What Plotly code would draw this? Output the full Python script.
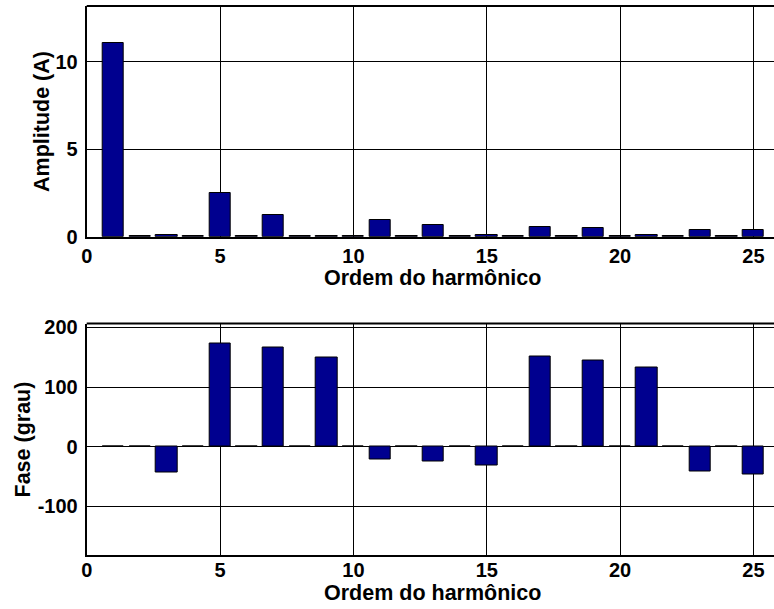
import plotly.graph_objects as go

harmonics = list(range(1, 26))
amplitude = [11.05, 0.04, 0.10, 0.04, 2.48, 0.04, 1.24, 0.04, 0.04, 0.04,
             0.95, 0.04, 0.67, 0.04, 0.10, 0.04, 0.55, 0.04, 0.48, 0.04,
             0.10, 0.04, 0.38, 0.04, 0.38]
phase = [0.5, 0.5, -43.5, 0.5, 173, 0.5, 166.5, 0.5, 149, 0.5,
         -22, 0.5, -24, 0.5, -32, 0.5, 151, 0.5, 145, 0.5,
         133, 0.5, -42, 0.5, -46]

xticks = [0, 5, 10, 15, 20, 25]
amp_ticks = [0, 5, 10]
phase_ticks = [-100, 0, 100, 200]

W, H = 774, 609
BAR = "#00008F"
FONT = dict(family="Liberation Sans, Arial, sans-serif", size=20, color="black")


def bold(vals):
    return ["<b>%s</b>" % v for v in vals]


fig = go.Figure()
fig.add_trace(go.Bar(x=harmonics, y=amplitude, width=0.8, xaxis="x", yaxis="y",
                     marker=dict(color=BAR, line=dict(color="black", width=1))))
fig.add_trace(go.Bar(x=harmonics, y=phase, width=0.8, xaxis="x2", yaxis="y2",
                     marker=dict(color=BAR, line=dict(color="black", width=1))))

x0 = 86.7 / W
top1, bot1 = 1 - 6 / H, 1 - 236.7 / H
top2, bot2 = 1 - 323.5 / H, 1 - 555 / H
xr = [0, (W - 86.7) / 26.67]

common_x = dict(range=xr, tickvals=xticks, ticktext=bold(xticks), showgrid=True,
                gridcolor="black", gridwidth=1,
                showline=True, linecolor="black", linewidth=2, mirror=False,
                ticks="", tickfont=FONT, zeroline=False, automargin=False, domain=[x0, 1])
common_y = dict(showgrid=True, gridcolor="black", gridwidth=1, showline=True,
                linecolor="black", linewidth=2, ticks="", tickfont=FONT,
                zeroline=False, automargin=False, ticklabelstandoff=3)

fig.update_layout(
    width=W, height=H, margin=dict(l=0, r=0, t=0, b=0),
    paper_bgcolor="white", plot_bgcolor="white", showlegend=False,
    bargap=0,
    xaxis=dict(**common_x, anchor="y", ticklabelstandoff=0),
    yaxis=dict(**common_y, range=[0, 13.18], tickvals=amp_ticks, ticktext=bold(amp_ticks),
               domain=[bot1, top1], anchor="x"),
    xaxis2=dict(**common_x, anchor="y2", ticklabelstandoff=-4),
    yaxis2=dict(**common_y, range=[-181.4, 206.4], tickvals=phase_ticks,
                ticktext=bold(phase_ticks), domain=[bot2, top2], anchor="x2"),
)

for yref_top in (top1, top2):
    fig.add_shape(type="line", xref="paper", yref="paper", x0=x0, x1=1, y0=yref_top, y1=yref_top,
                  line=dict(color="black", width=2))

TFONT = dict(family="Liberation Sans, Arial, sans-serif", size=21.5, color="black")
ann = dict(xref="paper", yref="paper", showarrow=False, font=TFONT,
           xanchor="center", yanchor="middle")
fig.add_annotation(text="<b>Amplitude (A)</b>", x=42 / W, y=1 - 122 / H, textangle=-90, **ann)
fig.add_annotation(text="<b>Fase (grau)</b>", x=22.5 / W, y=1 - 440 / H, textangle=-90, **ann)
fig.add_annotation(text="<b>Ordem do harmônico</b>", x=432 / W, y=1 - 278 / H, **ann)
fig.add_annotation(text="<b>Ordem do harmônico</b>", x=432 / W, y=1 - 593 / H, **ann)

fig.write_html("out.html")
